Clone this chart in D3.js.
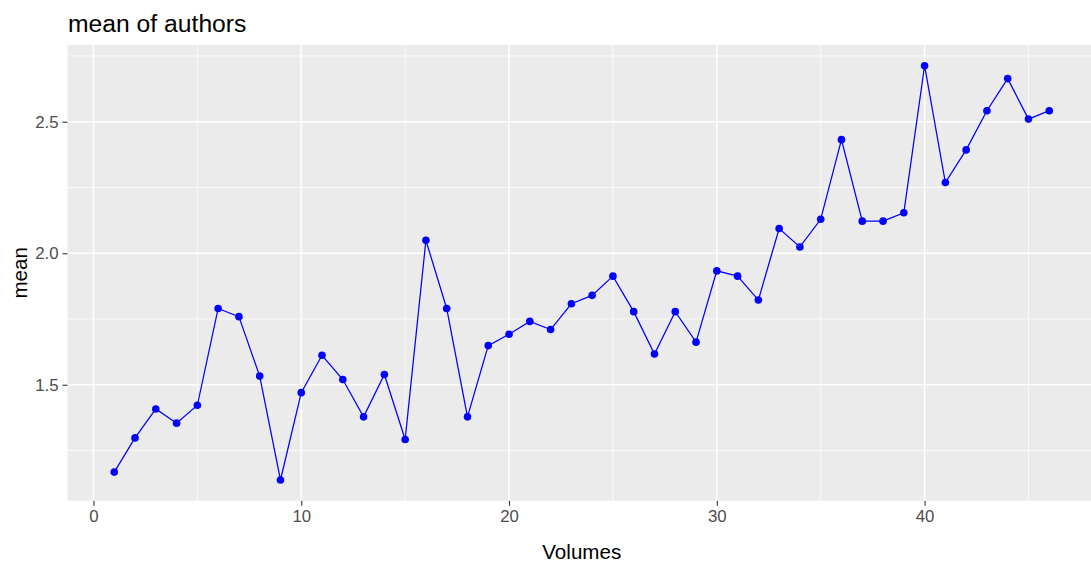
<!DOCTYPE html>
<html>
<head>
<meta charset="utf-8">
<script src="https://cdn.jsdelivr.net/npm/d3@7"></script>
<style>
  html, body { margin: 0; padding: 0; background: #fff; }
  svg { display: block; font-family: "Liberation Sans", Arial, sans-serif; }
</style>
</head>
<body>
<svg id="chart" width="1091" height="565"></svg>
<script>
// Mean number of authors per volume
const volumes = d3.range(1, 47);
const meanAuthors = [
  1.168, 1.298, 1.408, 1.354, 1.422, 1.790, 1.759, 1.533, 1.138, 1.470,
  1.612, 1.520, 1.378, 1.539, 1.292, 2.049, 1.790, 1.378, 1.649, 1.692,
  1.741, 1.710, 1.808, 1.840, 1.913, 1.778, 1.617, 1.778, 1.662, 1.933,
  1.913, 1.822, 2.094, 2.024, 2.129, 2.432, 2.122, 2.122, 2.154, 2.713,
  2.269, 2.393, 2.542, 2.664, 2.510, 2.542
];
const xTicks = [0, 10, 20, 30, 40];
const xMinor = [5, 15, 25, 35, 45];
const yTicks = [1.5, 2.0, 2.5];
const yMinor = [1.25, 1.75, 2.25, 2.75];

const svg = d3.select("#chart");
const panel = { left: 67.5, right: 1096, top: 45, bottom: 500.7 };

// ggplot-style 5% expansion around the data range
const xExt = d3.extent(volumes), yExt = d3.extent(meanAuthors);
const xPad = (xExt[1] - xExt[0]) * 0.05, yPad = (yExt[1] - yExt[0]) * 0.05;
const x = d3.scaleLinear().domain([xExt[0] - xPad, xExt[1] + xPad]).range([panel.left, panel.right]);
const y = d3.scaleLinear().domain([yExt[0] - yPad, yExt[1] + yPad]).range([panel.bottom, panel.top]);

svg.append("rect")
  .attr("x", panel.left).attr("y", panel.top)
  .attr("width", panel.right - panel.left).attr("height", panel.bottom - panel.top)
  .attr("fill", "#EBEBEB");

const grid = svg.append("g").attr("stroke", "#fff");
grid.selectAll(".xminor").data(xMinor).join("line")
  .attr("x1", d => x(d)).attr("x2", d => x(d))
  .attr("y1", panel.top).attr("y2", panel.bottom).attr("stroke-width", 0.75);
grid.selectAll(".yminor").data(yMinor).join("line")
  .attr("y1", d => y(d)).attr("y2", d => y(d))
  .attr("x1", panel.left).attr("x2", panel.right).attr("stroke-width", 0.75);
grid.selectAll(".xmajor").data(xTicks).join("line")
  .attr("x1", d => x(d)).attr("x2", d => x(d))
  .attr("y1", panel.top).attr("y2", panel.bottom).attr("stroke-width", 1.5);
grid.selectAll(".ymajor").data(yTicks).join("line")
  .attr("y1", d => y(d)).attr("y2", d => y(d))
  .attr("x1", panel.left).attr("x2", panel.right).attr("stroke-width", 1.5);

// Axes
const xAxis = svg.append("g")
  .attr("transform", `translate(0,${panel.bottom})`)
  .call(d3.axisBottom(x).tickValues(xTicks).tickSize(5).tickPadding(4).tickFormat(d3.format("d")));
const yAxis = svg.append("g")
  .attr("transform", `translate(${panel.left},0)`)
  .call(d3.axisLeft(y).tickValues(yTicks).tickSize(5).tickPadding(4).tickFormat(d3.format(".1f")));
[xAxis, yAxis].forEach(a => {
  a.select(".domain").remove();
  a.selectAll(".tick line").attr("stroke", "#333333").attr("stroke-width", 1.1);
  a.selectAll(".tick text").attr("fill", "#4D4D4D")
    .style("font-size", "16.8px").style("font-family", "'Liberation Sans', Arial, sans-serif");
});

// Line and points
const line = d3.line().x((d, i) => x(volumes[i])).y(d => y(d));
svg.append("path")
  .datum(meanAuthors)
  .attr("d", line)
  .attr("fill", "none")
  .attr("stroke", "#0000FF")
  .attr("stroke-width", 1.25);
svg.append("g").selectAll("circle").data(meanAuthors).join("circle")
  .attr("cx", (d, i) => x(volumes[i]))
  .attr("cy", d => y(d))
  .attr("r", 3.8)
  .attr("fill", "#0000FF");

// Titles
svg.append("text")
  .attr("x", 68).attr("y", 32)
  .attr("fill", "#000")
  .style("font-size", "24.7px")
  .text("mean of authors");
svg.append("text")
  .attr("x", (panel.left + panel.right) / 2).attr("y", 559)
  .attr("text-anchor", "middle")
  .attr("fill", "#000")
  .style("font-size", "20.6px")
  .text("Volumes");
svg.append("text")
  .attr("transform", `translate(26.5,${(panel.top + panel.bottom) / 2}) rotate(-90)`)
  .attr("text-anchor", "middle")
  .attr("fill", "#000")
  .style("font-size", "20.6px")
  .text("mean");
</script>
</body>
</html>
